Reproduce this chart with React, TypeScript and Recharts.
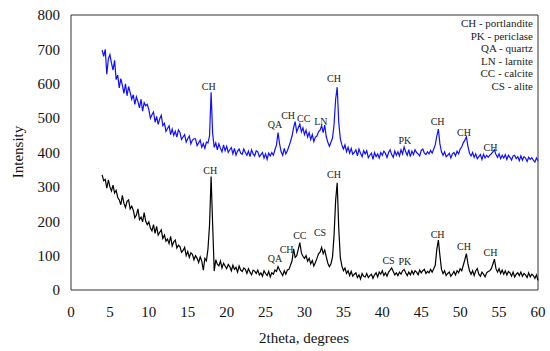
import React from 'react'
import { LineChart, Line, XAxis, YAxis, ReferenceLine, ReferenceDot } from 'recharts'

// 2theta grid: 4.0 .. 60.0, step 0.2
const start = 4
const step = 0.2

// upper pattern (blue)
const upperCounts = [
  698, 680, 700, 628, 672, 685, 660, 640, 668, 612,
  625, 588, 615, 596, 572, 600, 565, 592, 575, 555,
  568, 540, 562, 548, 530, 555, 520, 545, 536, 540,
  525, 500, 510, 518, 488, 505, 482, 498, 508, 478,
  485, 462, 470, 478, 452, 468, 450, 462, 445, 466,
  458, 438, 445, 452, 430, 440, 448, 425, 436, 440,
  440, 420, 428, 436, 415, 426, 412, 430, 428, 448,
  575, 455, 415, 428, 408, 425, 412, 402, 422, 405,
  418, 400, 408, 414, 396, 412, 392, 404, 410, 398,
  395, 410, 400, 392, 404, 388, 408, 396, 390, 405,
  402, 388, 394, 400, 384, 396, 380, 398, 390, 400,
  392, 408, 422, 458, 425, 402, 392, 412, 396, 405,
  418, 432, 448, 472, 490, 460, 472, 483, 460, 472,
  452, 465, 445, 458, 438, 452, 432, 445, 448, 460,
  465, 478, 458, 480, 445, 430, 418, 430, 442, 482,
  555, 590, 488, 440, 422, 410, 422, 402, 415, 398,
  412, 395, 400, 408, 390, 410, 398, 388, 405, 396,
  405, 385, 392, 398, 380, 400, 388, 396, 384, 400,
  392, 404, 398, 386, 400, 408, 394, 386, 404, 392,
  402, 390, 408, 396, 416, 402, 392, 408, 388, 404,
  394, 408, 400, 396, 390, 406, 410, 398, 394, 402,
  396, 406, 398, 410, 422, 448, 468, 425, 402, 392,
  402, 388, 392, 398, 384, 396, 400, 390, 404, 396,
  410, 416, 428, 436, 446, 418, 398, 390, 400, 386,
  396, 382, 388, 394, 380, 395, 384, 392, 386, 392,
  396, 402, 408, 394, 386, 396, 382, 392, 384, 394,
  380, 392, 386, 378, 390, 392, 382, 388, 376, 390,
  378, 388, 384, 374, 386, 380, 385, 378, 372, 384,
  376,
]

// lower pattern (black)
const lowerCounts = [
  335, 318, 322, 296, 320, 300, 288, 305, 282, 290,
  270, 262, 248, 275, 252, 240, 258, 262, 236, 244,
  232, 210, 218, 236, 205, 212, 198, 225, 200, 190,
  198, 180, 172, 190, 165, 185, 160, 168, 175, 150,
  160, 142, 148, 135, 156, 128, 140, 145, 122, 130,
  126, 110, 115, 124, 100, 112, 95, 108, 104, 88,
  100, 92, 80, 96, 84, 58, 92, 85, 120, 190,
  330, 190, 55, 88, 75, 70, 84, 64, 78, 70,
  62, 74, 68, 56, 72, 60, 66, 52, 70, 58,
  54, 64, 60, 48, 62, 52, 44, 58, 55, 48,
  58, 44, 50, 40, 56, 48, 42, 54, 38, 50,
  46, 58, 54, 68, 58, 50, 42, 56, 46, 58,
  60, 72, 85, 120, 95, 100, 118, 138, 108, 98,
  92, 100, 84, 92, 76, 86, 70, 80, 92, 105,
  110, 124, 106, 116, 96, 78, 68, 76, 96, 160,
  260, 312, 180, 95, 70, 56, 64, 48, 56, 42,
  54, 40, 46, 50, 36, 44, 32, 48, 40, 38,
  48, 36, 42, 46, 34, 44, 50, 38, 52, 46,
  56, 42, 50, 40, 52, 58, 64, 54, 44, 50,
  42, 52, 46, 56, 60, 50, 42, 52, 44, 56,
  46, 56, 52, 44, 58, 50, 56, 60, 48, 54,
  50, 60, 52, 62, 72, 118, 145, 100, 60, 48,
  56, 42, 48, 52, 40, 46, 54, 44, 56, 50,
  62, 56, 72, 88, 106, 76, 56, 46, 56, 42,
  56, 62, 46, 40, 52, 46, 38, 50, 54, 56,
  62, 75, 90, 62, 52, 62, 48, 58, 46, 56,
  44, 54, 50, 40, 52, 38, 46, 50, 42, 52,
  40, 48, 44, 36, 50, 38, 46, 42, 34, 44,
  28,
]

const xTicks = [0, 5, 10, 15, 20, 25, 30, 35, 40, 45, 50, 55, 60]
const yTicks = [0, 100, 200, 300, 400, 500, 600, 700, 800]

// peak labels [2theta, intensity, text]
const upperPeaks: [number, number, string][] = [
  [17.7, 593, 'CH'],
  [26.2, 483, 'QA'],
  [27.9, 508, 'CH'],
  [29.9, 500, 'CC'],
  [32.1, 489, 'LN'],
  [33.8, 614, 'CH'],
  [42.9, 436, 'PK'],
  [47.1, 489, 'CH'],
  [50.5, 457, 'CH'],
  [53.9, 416, 'CH'],
]
const lowerPeaks: [number, number, string][] = [
  [17.9, 349, 'CH'],
  [26.2, 93, 'QA'],
  [27.7, 118, 'CH'],
  [29.4, 159, 'CC'],
  [32.0, 168, 'CS'],
  [33.8, 335, 'CH'],
  [40.8, 85, 'CS'],
  [42.9, 82, 'PK'],
  [47.1, 163, 'CH'],
  [50.5, 126, 'CH'],
  [53.9, 110, 'CH'],
]

const phaseKey = [
  'CH - portlandite',
  'PK - periclase',
  'QA - quartz',
  'LN - larnite',
  'CC - calcite',
  'CS - alite',
]

const data = upperCounts.map((v, i) => ({
  x: Math.round((start + i * step) * 10) / 10,
  upper: v,
  lower: lowerCounts[i],
}))

const serif = '"Liberation Serif", "DejaVu Serif", serif'
const axisColor = '#333'

export default function App() {
  return (
    <div style={{ position: 'absolute', left: 0, top: 0, width: 550, height: 351, background: '#fff', fontFamily: serif }}>
      <LineChart width={550} height={351} data={data} margin={{ top: 15, right: 12, left: 0, bottom: 0 }}>
        <XAxis
          dataKey="x"
          type="number"
          domain={[0, 60]}
          ticks={xTicks}
          height={61}
          tickSize={0}
          tickMargin={16}
          tick={{ fontSize: 15, fill: '#111', fontFamily: serif }}
          axisLine={{ stroke: axisColor }}
        />
        <YAxis
          type="number"
          domain={[0, 800]}
          ticks={yTicks}
          width={71}
          tickSize={0}
          tickMargin={11}
          tick={{ fontSize: 15, fill: '#111', fontFamily: serif }}
          axisLine={{ stroke: axisColor }}
        />
        <ReferenceLine y={800} stroke={axisColor} />
        <ReferenceLine x={60} stroke={axisColor} />
        <Line dataKey="upper" stroke="#1010ff" strokeWidth={1.2} dot={false} isAnimationActive={false} />
        <Line dataKey="lower" stroke="#000" strokeWidth={1.2} dot={false} isAnimationActive={false} />
        {[...upperPeaks, ...lowerPeaks].map(([x, y, t], i) => (
          <ReferenceDot
            key={i}
            x={x}
            y={y}
            r={0}
            stroke="none"
            fill="none"
            label={{ value: t, position: 'center', fontSize: 10, fill: '#222', fontFamily: serif }}
          />
        ))}
      </LineChart>
      <div style={{ position: 'absolute', right: 17, top: 17, textAlign: 'right', fontSize: 11, lineHeight: '12.5px', color: '#222' }}>
        {phaseKey.map((s) => (
          <div key={s}>{s}</div>
        ))}
      </div>
      <div style={{ position: 'absolute', left: 18, top: 152, transform: 'translate(-50%, -50%) rotate(-90deg)', fontSize: 15, color: '#111', whiteSpace: 'nowrap' }}>
        Intensity
      </div>
      <div style={{ position: 'absolute', left: 304, top: 338, transform: 'translate(-50%, -50%)', fontSize: 15, color: '#111', whiteSpace: 'nowrap' }}>
        2theta, degrees
      </div>
    </div>
  )
}
